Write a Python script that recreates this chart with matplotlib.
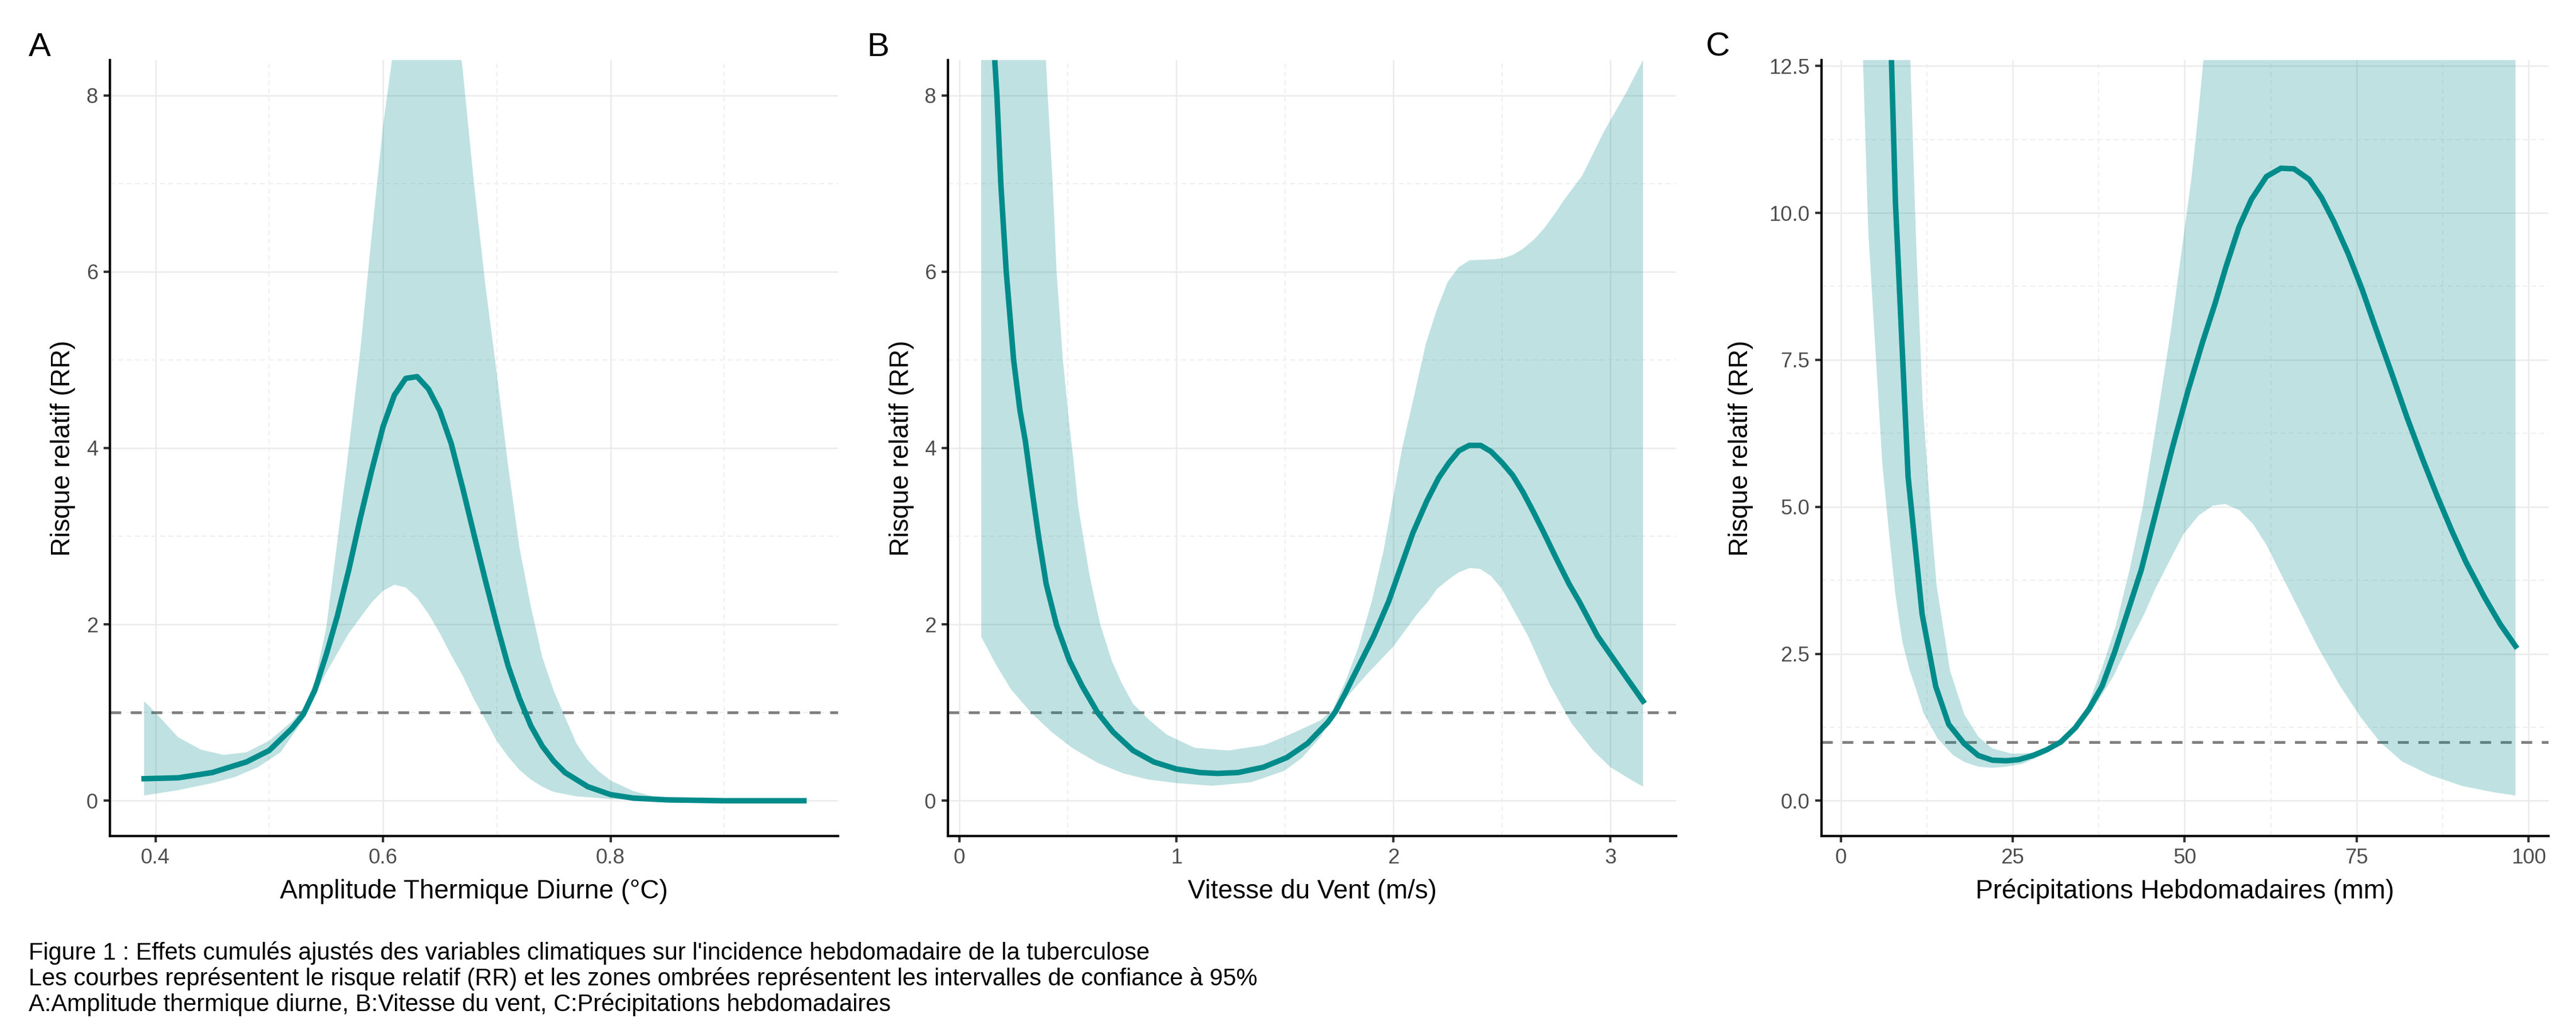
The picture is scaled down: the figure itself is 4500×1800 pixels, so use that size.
import numpy as np
import matplotlib
matplotlib.use("Agg")
import matplotlib.pyplot as plt

plt.rcParams["font.family"] = ["Liberation Sans", "DejaVu Sans"]

# ---- Panel A : amplitude thermique diurne ----
a_x = [0.39, 0.42, 0.45, 0.48, 0.50, 0.52, 0.53, 0.54, 0.55, 0.56, 0.57, 0.58, 0.59,
       0.60, 0.61, 0.62, 0.63, 0.64, 0.65, 0.66, 0.67, 0.68, 0.69, 0.70, 0.71, 0.72,
       0.73, 0.74, 0.75, 0.76, 0.78, 0.80, 0.82, 0.85, 0.90, 0.97]
a_rr = [0.25, 0.26, 0.32, 0.44, 0.57, 0.82, 0.98, 1.25, 1.65, 2.10, 2.62, 3.20, 3.74,
        4.24, 4.60, 4.79, 4.81, 4.67, 4.42, 4.05, 3.55, 3.02, 2.50, 2.00, 1.53, 1.16,
        0.85, 0.62, 0.45, 0.32, 0.16, 0.07, 0.03, 0.01, 0.0, 0.0]
a_hi_x = [0.39, 0.40, 0.41, 0.42, 0.44, 0.46, 0.48, 0.50, 0.52, 0.53, 0.54, 0.55, 0.56,
          0.57, 0.58, 0.59, 0.60, 0.61, 0.62, 0.64, 0.66, 0.67, 0.68, 0.69, 0.70, 0.71,
          0.72, 0.73, 0.74, 0.75, 0.76, 0.77, 0.78, 0.79, 0.80, 0.82, 0.84, 0.87, 0.90, 0.97]
a_hi = [1.13, 1.00, 0.86, 0.72, 0.58, 0.52, 0.55, 0.68, 0.90, 1.05, 1.35, 1.95, 2.95,
        4.00, 5.10, 6.40, 7.65, 8.60, 9.60, 10.5, 9.30, 8.30, 7.00, 5.85, 4.85, 3.80,
        2.87, 2.20, 1.63, 1.25, 0.95, 0.65, 0.46, 0.33, 0.23, 0.11, 0.04, 0.01, 0.0, 0.0]
a_lo_x = [0.39, 0.42, 0.45, 0.47, 0.49, 0.51, 0.53, 0.55, 0.57, 0.59, 0.60, 0.61, 0.62,
          0.63, 0.64, 0.65, 0.66, 0.67, 0.68, 0.69, 0.70, 0.71, 0.72, 0.73, 0.74, 0.75,
          0.77, 0.80, 0.85, 0.97]
a_lo = [0.06, 0.12, 0.20, 0.27, 0.38, 0.55, 0.92, 1.45, 1.90, 2.25, 2.38, 2.45, 2.42,
        2.30, 2.12, 1.90, 1.65, 1.42, 1.15, 0.92, 0.68, 0.50, 0.35, 0.24, 0.16, 0.10,
        0.05, 0.02, 0.0, 0.0]

# ---- Panel B : vitesse du vent ----
b_x = [0.10, 0.13, 0.163, 0.173, 0.191, 0.216, 0.25, 0.279, 0.304, 0.336, 0.366, 0.40,
       0.448, 0.507, 0.566, 0.637, 0.708, 0.80, 0.896, 1.00, 1.108, 1.19, 1.285, 1.40,
       1.509, 1.604, 1.698, 1.733, 1.778, 1.81, 1.91, 1.978, 2.031, 2.09, 2.154, 2.208,
       2.255, 2.302, 2.349, 2.402, 2.45, 2.502, 2.55, 2.597, 2.644, 2.691, 2.75, 2.809,
       2.856, 2.94, 3.07, 3.15]
b_rr = [11.2, 9.9, 8.4, 8.0, 7.0, 6.0, 5.0, 4.43, 4.08, 3.50, 2.98, 2.46,
        1.99, 1.59, 1.30, 1.00, 0.78, 0.57, 0.44, 0.36, 0.32, 0.31, 0.32, 0.38,
        0.49, 0.65, 0.89, 1.01, 1.22, 1.38, 1.87, 2.26, 2.63, 3.04, 3.40, 3.66,
        3.83, 3.97, 4.03, 4.03, 3.96, 3.83, 3.69, 3.50, 3.28, 3.05, 2.75, 2.46,
        2.26, 1.87, 1.41, 1.13]
b_hi_x = [0.10, 0.30, 0.399, 0.407, 0.43, 0.448, 0.477, 0.507, 0.525, 0.548, 0.601, 0.649,
          0.702, 0.749, 0.80, 0.873, 0.955, 1.085, 1.238, 1.403, 1.521, 1.663, 1.72, 1.78,
          1.84, 1.90, 1.954, 1.995, 2.042, 2.096, 2.149, 2.20, 2.249, 2.30, 2.351, 2.455,
          2.50, 2.55, 2.597, 2.65, 2.697, 2.75, 2.785, 2.87, 2.97, 3.07, 3.15]
b_hi = [14.0, 11.0, 8.4, 8.0, 7.0, 6.0, 5.0, 4.26, 3.88, 3.33, 2.54, 2.00,
        1.59, 1.33, 1.10, 0.92, 0.75, 0.60, 0.57, 0.63, 0.75, 0.91, 1.03, 1.36,
        1.75, 2.26, 2.83, 3.39, 4.02, 4.60, 5.18, 5.57, 5.88, 6.05, 6.13, 6.14,
        6.15, 6.19, 6.26, 6.37, 6.50, 6.68, 6.81, 7.09, 7.59, 8.02, 8.40]
b_lo_x = [0.101, 0.165, 0.236, 0.33, 0.425, 0.519, 0.637, 0.755, 0.873, 1.00, 1.167, 1.344,
          1.498, 1.58, 1.663, 1.698, 1.78, 1.88, 2.00, 2.11, 2.16, 2.20, 2.249, 2.30,
          2.351, 2.399, 2.449, 2.50, 2.532, 2.62, 2.72, 2.82, 2.92, 3.00, 3.10, 3.15]
b_lo = [1.86, 1.56, 1.27, 1.00, 0.78, 0.60, 0.43, 0.31, 0.24, 0.20, 0.17, 0.21,
        0.34, 0.49, 0.72, 0.86, 1.16, 1.44, 1.75, 2.12, 2.26, 2.40, 2.50, 2.59,
        2.64, 2.63, 2.55, 2.40, 2.26, 1.87, 1.32, 0.88, 0.57, 0.38, 0.23, 0.16]

# ---- Panel C : precipitations hebdomadaires ----
c_x = [2.0, 4.0, 6.0, 7.96, 9.8, 11.84, 13.8, 15.7, 17.96, 20.0, 22.04, 24.1, 25.9,
       27.96, 30.0, 32.0, 34.1, 36.1, 38.0, 39.8, 41.6, 43.7, 45.9, 48.2, 50.5, 52.6,
       54.4, 56.0, 57.9, 59.7, 61.9, 64.0, 65.9, 68.1, 69.9, 71.7, 73.8, 75.8, 77.8,
       80.1, 82.3, 84.6, 86.8, 88.85, 90.9, 93.6, 95.9, 98.1]
c_rr = [40.0, 28.0, 18.3, 10.17, 5.51, 3.17, 1.95, 1.30, 0.97, 0.77, 0.69, 0.68, 0.70,
        0.77, 0.87, 1.00, 1.24, 1.56, 1.95, 2.52, 3.17, 3.93, 4.94, 6.00, 6.98, 7.80,
        8.45, 9.08, 9.76, 10.23, 10.62, 10.76, 10.75, 10.57, 10.26, 9.85, 9.30, 8.70, 8.03,
        7.27, 6.53, 5.81, 5.16, 4.59, 4.06, 3.46, 3.00, 2.63]
c_hi_x = [2.0, 6.0, 9.0, 10.1, 10.9, 11.9, 13.06, 13.96, 15.9, 17.96, 20.0, 22.04, 24.9,
          27.3, 29.8, 31.8, 33.9, 35.9, 38.0, 40.0, 42.0, 43.9, 45.3, 46.4, 48.0, 49.5,
          51.0, 52.0, 52.8, 55.0, 65.0, 80.0, 98.1]
c_hi = [55.0, 30.0, 18.0, 12.7, 9.7, 6.8, 4.89, 3.65, 2.21, 1.47, 1.09, 0.89, 0.80,
        0.81, 0.87, 1.01, 1.25, 1.61, 2.26, 2.98, 3.93, 4.99, 5.99, 6.80, 8.00, 9.30,
        10.6, 11.7, 12.7, 16.0, 25.0, 30.0, 35.0]
c_lo_x = [2.0, 3.0, 4.0, 5.5, 6.04, 6.94, 7.96, 8.98, 10.0, 11.0, 12.04, 14.08, 16.3,
          17.96, 20.0, 22.0, 24.1, 26.5, 29.4, 32.2, 34.7, 37.1, 39.6, 42.0, 44.1, 45.7,
          47.8, 49.8, 52.0, 54.1, 55.9, 58.0, 60.0, 61.9, 63.7, 66.5, 69.3, 72.5, 75.6,
          78.4, 81.6, 85.6, 90.4, 95.1, 98.1]
c_lo = [20.0, 13.5, 9.7, 6.8, 5.75, 4.65, 3.50, 2.69, 2.23, 1.88, 1.49, 1.06, 0.78,
        0.66, 0.58, 0.56, 0.58, 0.63, 0.78, 0.97, 1.25, 1.64, 2.11, 2.69, 3.17, 3.60,
        4.08, 4.53, 4.85, 5.02, 5.05, 4.94, 4.70, 4.35, 3.93, 3.28, 2.63, 1.97, 1.42,
        1.00, 0.67, 0.44, 0.25, 0.14, 0.09]

# ticks / labels
a_xticks = [0.4, 0.6, 0.8]
a_xlabels = ["0.4", "0.6", "0.8"]
a_xminor = [0.5, 0.7, 0.9]
b_xticks = [0, 1, 2, 3]
b_xlabels = ["0", "1", "2", "3"]
b_xminor = [0.5, 1.5, 2.5]
c_xticks = [0, 25, 50, 75, 100]
c_xlabels = ["0", "25", "50", "75", "100"]
c_xminor = [12.5, 37.5, 62.5, 87.5]
ab_yticks = [0, 2, 4, 6, 8]
ab_ylabels = ["0", "2", "4", "6", "8"]
ab_yminor = [1, 3, 5, 7]
c_yticks = [0, 2.5, 5, 7.5, 10, 12.5]
c_ylabels = ["0.0", "2.5", "5.0", "7.5", "10.0", "12.5"]
c_yminor = [1.25, 3.75, 6.25, 8.75, 11.25]

x_titles = ["Amplitude Thermique Diurne (°C)", "Vitesse du Vent (m/s)",
            "Précipitations Hebdomadaires (mm)"]
y_title = "Risque relatif (RR)"
panel_tags = ["A", "B", "C"]
caption = [
    "Figure 1 : Effets cumulés ajustés des variables climatiques sur l'incidence hebdomadaire de la tuberculose",
    "Les courbes représentent le risque relatif (RR) et les zones ombrées représentent les intervalles de confiance à 95%",
    "A:Amplitude thermique diurne, B:Vitesse du vent, C:Précipitations hebdomadaires",
]

TEAL = "#008B8B"
W, H = 4500.0, 1800.0


def draw_panel(ax, fit, hi, lo, xlim, ylim, xt, yt, xlabel, ylab_x):
    x_fit, rr = fit
    x_hi, y_hi = hi
    x_lo, y_lo = lo
    ax.axhline(1, color="#7F7F7F", lw=1.15, ls=(0, (4, 3.5)), zorder=1)
    poly_x = np.r_[x_hi, np.array(x_lo)[::-1]]
    poly_y = np.r_[y_hi, np.array(y_lo)[::-1]]
    ax.fill(poly_x, poly_y, color=TEAL, alpha=0.25, lw=0, zorder=2)
    ax.plot(x_fit, rr, color=TEAL, lw=2.3, zorder=3, solid_joinstyle="round")

    xticks, xlabels, xminor = xt
    yticks, ylabels, yminor = yt
    ax.set_xticks(xticks)
    ax.set_xticklabels(xlabels)
    ax.set_xticks(xminor, minor=True)
    ax.set_yticks(yticks)
    ax.set_yticklabels(ylabels)
    ax.set_yticks(yminor, minor=True)
    # limits after ticks, set_ticks can widen the view
    ax.set_xlim(*xlim)
    ax.set_ylim(*ylim)

    ax.set_axisbelow(True)
    ax.grid(which="major", color="#EBEBEB", lw=0.6)
    ax.grid(which="minor", color="#EFEFEF", lw=0.5, ls=(0, (4, 3)))
    ax.tick_params(which="minor", length=0)
    ax.tick_params(which="major", length=2.75, width=1.0, color="#333333",
                   labelcolor="#4D4D4D", labelsize=8.8, pad=2.2)
    for side in ("top", "right"):
        ax.spines[side].set_visible(False)
    for side in ("left", "bottom"):
        ax.spines[side].set_linewidth(1.0)
        ax.spines[side].set_color("black")

    ax.set_xlabel(xlabel, fontsize=11, va="baseline")
    ax.xaxis.set_label_coords(0.5, -0.0804)
    ax.set_ylabel(y_title, fontsize=11, va="center")
    ax.yaxis.set_label_coords(ylab_x, 0.5)


fig = plt.figure(figsize=(15, 6), dpi=300)

# axes boxes measured in pixels: (left, right)
boxes = [(192, 1464), (1656, 2928), (3182, 4452)]
top, bottom = 105, 1461
axes = []
for left, right in boxes:
    axes.append(fig.add_axes([left / W, 1 - bottom / H, (right - left) / W,
                              (bottom - top) / H]))

draw_panel(axes[0], (a_x, a_rr), (a_hi_x, a_hi), (a_lo_x, a_lo),
           (0.36, 1.0), (-0.4, 8.4), (a_xticks, a_xlabels, a_xminor),
           (ab_yticks, ab_ylabels, ab_yminor), x_titles[0], (110 - 192) / 1272)
draw_panel(axes[1], (b_x, b_rr), (b_hi_x, b_hi), (b_lo_x, b_lo),
           (-0.0525, 3.3025), (-0.4, 8.4), (b_xticks, b_xlabels, b_xminor),
           (ab_yticks, ab_ylabels, ab_yminor), x_titles[1], (1575 - 1656) / 1272)
draw_panel(axes[2], (c_x, c_rr), (c_hi_x, c_hi), (c_lo_x, c_lo),
           (-2.79, 102.9), (-0.6, 12.6), (c_xticks, c_xlabels, c_xminor),
           (c_yticks, c_ylabels, c_yminor), x_titles[2], (3041 - 3182) / 1270)

# panel tags
for tag, xpx in zip(panel_tags, [50, 1514, 2980]):
    fig.text(xpx / W, 1 - 98 / H, tag, fontsize=14, ha="left", va="baseline")

# caption lines
for line, ypx in zip(caption, [1677, 1722, 1767]):
    fig.text(50 / W, 1 - ypx / H, line, fontsize=10, ha="left", va="baseline")

fig.savefig("out.png", dpi=300)
